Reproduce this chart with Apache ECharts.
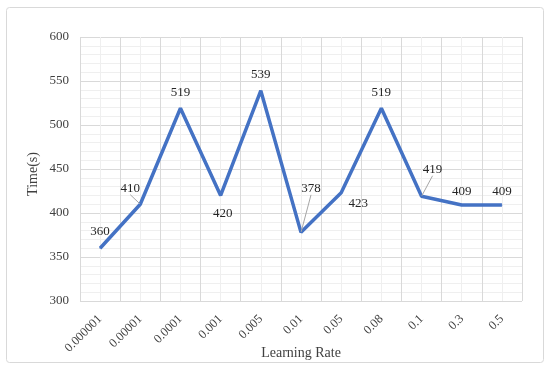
<!DOCTYPE html>
<html>
<head>
<meta charset="utf-8">
<script src="https://cdn.jsdelivr.net/npm/echarts@6/dist/echarts.min.js"></script>
<style>html,body{margin:0;padding:0;background:#fff}#c{width:550px;height:371px}</style>
</head>
<body>
<div id="c"></div>
<script>
var categories = ['0.000001','0.00001','0.0001','0.001','0.005','0.01','0.05','0.08','0.1','0.3','0.5'];
var timeValues = [360, 410, 519, 420, 539, 378, 423, 519, 419, 409, 409];
var yTicks = [300, 350, 400, 450, 500, 550, 600];

var FONT = '"Liberation Serif", "Times New Roman", serif';
// label placement per point (style only)
var labelSide = ['top','top','top','bottom','top','top','bottom','top','top','top','top'];
var labelShift = [[0,-1],[-10,0],[0,0],[2,2],[0,0],[10,-28],[17,-5],[0,0],[11,-11],[0,2],[0,2]];
var withLeader = [false, true, false, false, false, true, false, false, true, false, false];

var data = timeValues.map(function (v, i) {
  return {
    value: v,
    label: {position: labelSide[i]},
    labelLine: {show: withLeader[i]}
  };
});

var chart = echarts.init(document.getElementById('c'), null, {renderer: 'canvas'});
chart.setOption({
  animation: false,
  backgroundColor: '#fff',
  graphic: [{
    type: 'rect', shape: {x: 6.5, y: 7.5, width: 537, height: 355, r: 3},
    style: {fill: 'none', stroke: '#d9d9d9', lineWidth: 1}, z: -1
  }],
  grid: {left: 80, right: 28, top: 37, bottom: 70, containLabel: false, outerBoundsMode: 'none'},
  xAxis: [{
    type: 'category', data: categories, boundaryGap: true,
    axisLine: {show: false}, axisTick: {show: false}, splitLine: {show: false},
    axisLabel: {rotate: 45, fontFamily: FONT, fontSize: 12.5, color: '#404040', margin: 16, interval: 0},
    name: 'Learning Rate', nameLocation: 'middle', nameGap: 45, nameMoveOverlap: false,
    nameTextStyle: {fontFamily: FONT, fontSize: 14, color: '#404040'}
  }, {
    type: 'value', min: 0, max: 11, interval: 1, position: 'bottom',
    axisLine: {show: false}, axisTick: {show: false}, axisLabel: {show: false},
    splitLine: {show: true, lineStyle: {color: '#d9d9d9', width: 1}},
    minorTick: {show: false, splitNumber: 2},
    minorSplitLine: {show: true, lineStyle: {color: '#efefef', width: 1}}
  }],
  yAxis: {
    type: 'value', min: yTicks[0], max: yTicks[yTicks.length - 1], interval: 50,
    axisLine: {show: false}, axisTick: {show: false},
    axisLabel: {fontFamily: FONT, fontSize: 13, color: '#404040', margin: 11},
    splitLine: {show: true, lineStyle: {color: '#d9d9d9', width: 1}},
    minorTick: {show: false, splitNumber: 5},
    minorSplitLine: {show: true, lineStyle: {color: '#efefef', width: 1}},
    name: 'Time(s)', nameLocation: 'middle', nameGap: 40, nameMoveOverlap: false,
    nameTextStyle: {fontFamily: FONT, fontSize: 14, color: '#404040', padding: [0, 10, 0, 0]}
  },
  series: [{
    type: 'line', xAxisIndex: 0, data: data,
    symbol: 'circle', symbolSize: 1, showSymbol: true,
    itemStyle: {color: '#4472C4'},
    lineStyle: {color: '#4472C4', width: 3.5},
    label: {show: true, fontFamily: FONT, fontSize: 13, color: '#262626', distance: 9},
    labelLine: {show: false, lineStyle: {color: '#a6a6a6', width: 1}},
    labelLayout: function (p) {
      var s = labelShift[p.dataIndex];
      return {dx: s[0], dy: s[1]};
    }
  }]
});
</script>
</body>
</html>
